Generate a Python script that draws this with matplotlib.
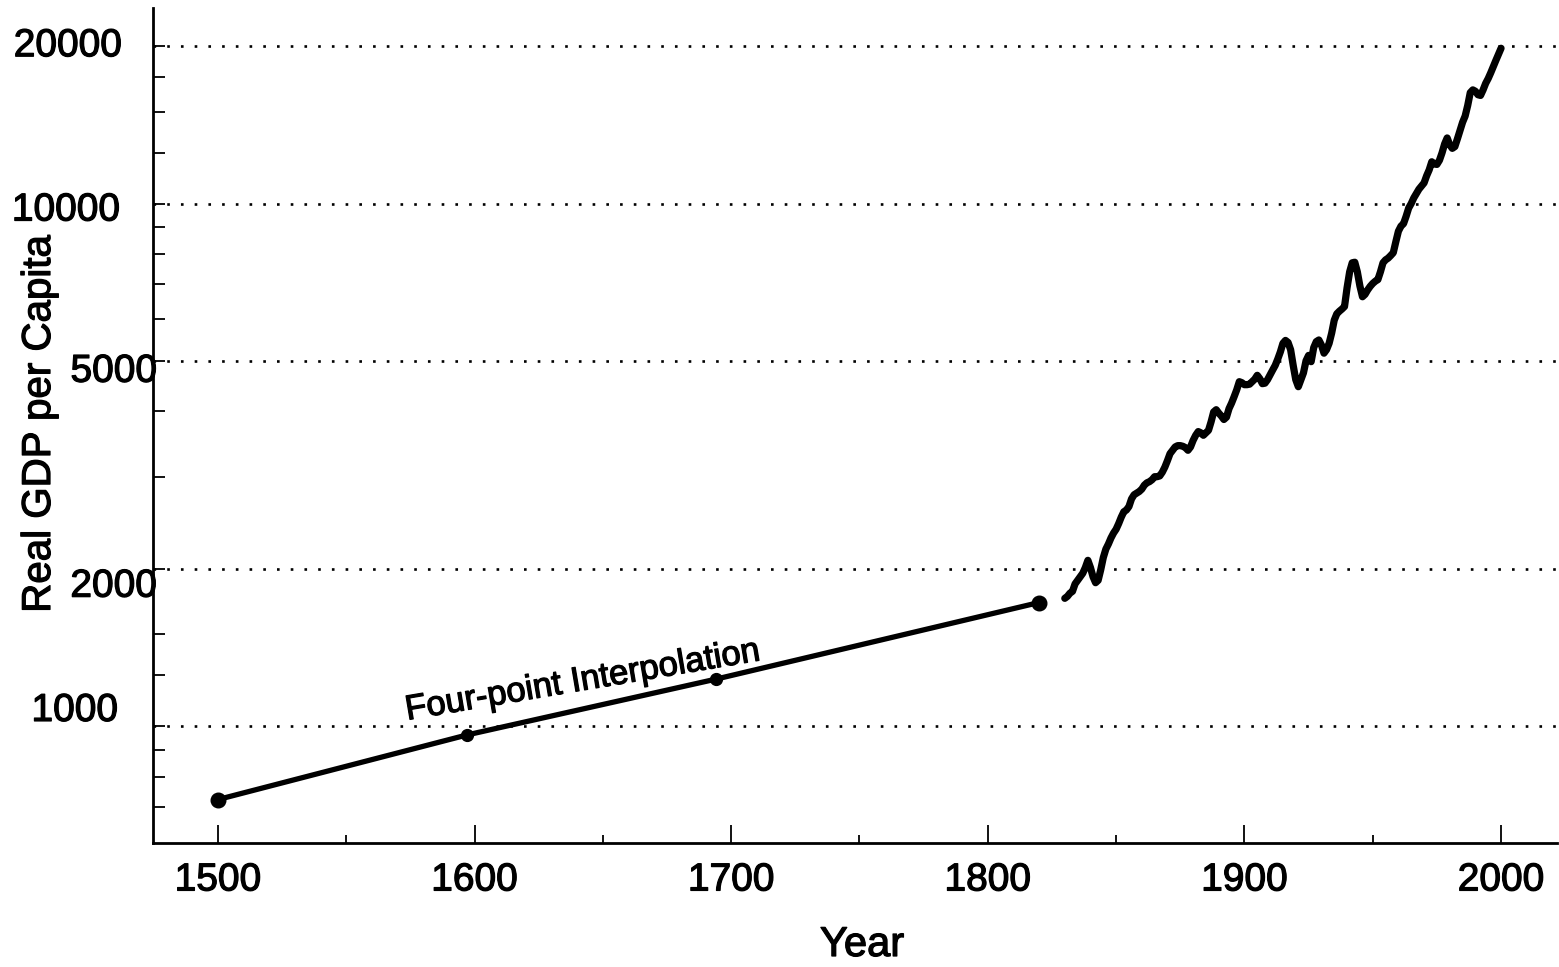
import matplotlib
matplotlib.use('Agg')
import matplotlib.pyplot as plt
import matplotlib.patheffects as pe
from matplotlib.ticker import FixedLocator, NullFormatter
from matplotlib.transforms import ScaledTranslation

plt.rcParams['font.family'] = ['Liberation Sans', 'DejaVu Sans']

# ---- data ----
interp_years = [1500, 1597, 1694, 1820]
interp_gdp = [723, 961, 1229, 1723]

annual_years = list(range(1830, 2001))
annual_gdp = [
    1755, 1770, 1795, 1810, 1870, 1900, 1930, 1960, 2010, 2075,      # 1830s
    2010, 1930, 1880, 1900, 1990, 2100, 2180, 2230, 2290, 2340,      # 1840s
    2380, 2440, 2510, 2570, 2590, 2630, 2720, 2770, 2790, 2810,      # 1850s
    2840, 2890, 2920, 2935, 2960, 3000, 3000, 3010, 3060, 3130,      # 1860s
    3220, 3320, 3370, 3420, 3440, 3440, 3430, 3410, 3370, 3420,      # 1870s
    3520, 3600, 3660, 3640, 3600, 3640, 3680, 3820, 3990, 4030,      # 1880s
    3970, 3920, 3860, 3900, 4050, 4150, 4270, 4400, 4560, 4540,      # 1890s
    4500, 4500, 4510, 4560, 4610, 4690, 4620, 4520, 4530, 4600,      # 1900s
    4700, 4800, 4900, 5040, 5200, 5400, 5470, 5420, 5250, 4900,      # 1910s
    4600, 4460, 4600, 4740, 5000, 5120, 4980, 5300, 5440, 5480,      # 1920s
    5360, 5170, 5250, 5400, 5650, 5980, 6150, 6220, 6280, 6350,      # 1930s
    6900, 7400, 7700, 7720, 7400, 6950, 6630, 6700, 6830, 6940,      # 1940s
    7030, 7100, 7150, 7400, 7700, 7800, 7860, 7950, 8050, 8450,      # 1950s
    8850, 9050, 9150, 9450, 9800, 10000, 10250, 10450, 10650, 10800, # 1960s
    10950, 11300, 11600, 12020, 11900, 11880, 12100, 12500, 13000, 13350,  # 1970s
    12950, 12750, 12850, 13300, 13800, 14300, 14700, 15400, 16300, 16500,  # 1980s
    16400, 16150, 16100, 16500, 16980, 17350, 17800, 18300, 18800, 19300,  # 1990s
    19820,                                                             # 2000
]

y_major = [1000, 2000, 5000, 10000, 20000]
y_major_labels = ['1000', '2000', '5000', '10000', '20000']
y_minor = [700, 800, 900, 1250, 1500, 3000, 4000, 6000, 7000, 8000, 9000,
           12500, 15000, 17500]
x_major = [1500, 1600, 1700, 1800, 1900, 2000]
x_major_labels = ['1500', '1600', '1700', '1800', '1900', '2000']
x_minor = [1550, 1650, 1750, 1850, 1950]

annotation_text = 'Four-point Interpolation'
x_label = 'Year'
y_label = 'Real GDP per Capita'

heavy = [pe.withStroke(linewidth=0.9, foreground='black')]

# ---- figure ----
fig = plt.figure(figsize=(15.59, 9.67), dpi=100)
ax = fig.add_axes([153 / 1559, 1 - 843 / 967, (1557 - 153) / 1559, (843 - 8) / 967])

ax.set_yscale('log')
ax.set_xlim(1474.7, 2021.8)
ax.set_ylim(597, 23670)

# grid (dotted horizontal lines)
ax.yaxis.grid(True, which='major', linestyle=(0, (1, 4.2)), linewidth=1.9,
              color='black')
ax.set_axisbelow(True)

# interpolation segment
ax.plot(interp_years, interp_gdp, color='black', lw=3.8, solid_capstyle='round',
        zorder=3)
big = [0, 3]
small = [1, 2]
ax.plot([interp_years[i] for i in big], [interp_gdp[i] for i in big], 'o',
        color='black', markersize=10.5, zorder=4)
ax.plot([interp_years[i] for i in small], [interp_gdp[i] for i in small], 'o',
        color='black', markersize=8.5, zorder=4)

# annual series
ax.plot(annual_years, annual_gdp, color='black', lw=5.2, solid_joinstyle='round',
        solid_capstyle='round', zorder=3)

ax.text(1642.8, 1172, annotation_text, rotation=9.6, rotation_mode='anchor',
        ha='center', va='baseline', fontsize=25, path_effects=heavy)

# spines
for s in ['top', 'right']:
    ax.spines[s].set_visible(False)
for s in ['left', 'bottom']:
    ax.spines[s].set_linewidth(2.0)

# ticks
ax.xaxis.set_major_locator(FixedLocator(x_major))
ax.set_xticklabels(x_major_labels)
ax.xaxis.set_minor_locator(FixedLocator(x_minor))
ax.yaxis.set_major_locator(FixedLocator(y_major))
ax.set_yticklabels(y_major_labels)
ax.yaxis.set_minor_locator(FixedLocator(y_minor))
ax.yaxis.set_minor_formatter(NullFormatter())

ax.tick_params(axis='x', which='major', direction='in', length=13, width=1.3,
               labelsize=28, pad=14)
ax.tick_params(axis='x', which='minor', direction='in', length=6, width=1.3)
ax.tick_params(axis='y', which='major', direction='in', length=8.5, width=1.3,
               labelsize=28, pad=0)
ax.tick_params(axis='y', which='minor', direction='in', length=8.5, width=1.3)

# per-label offsets (pixels) to mimic reference placement
offsets = {'1000': (-35, 19), '2000': (4, -14), '5000': (4, -7),
           '10000': (-33, -3), '20000': (-31, 4)}
for lab in ax.get_yticklabels():
    dx, dy = offsets.get(lab.get_text(), (0, 0))
    lab.set_transform(lab.get_transform() +
                      ScaledTranslation(dx / 100, dy / 100, fig.dpi_scale_trans))
    lab.set_path_effects(heavy)
for lab in ax.get_xticklabels():
    lab.set_path_effects(heavy)

ax.set_xlabel(x_label, fontsize=30, path_effects=heavy)
ax.xaxis.set_label_coords((862 - 153) / 1404, (843 - 925) / 835)
ax.set_ylabel(y_label, fontsize=29, path_effects=heavy)
ax.yaxis.set_label_coords((58 - 153) / 1404, (843 - 424) / 835)

fig.savefig('out.png', dpi=100)
